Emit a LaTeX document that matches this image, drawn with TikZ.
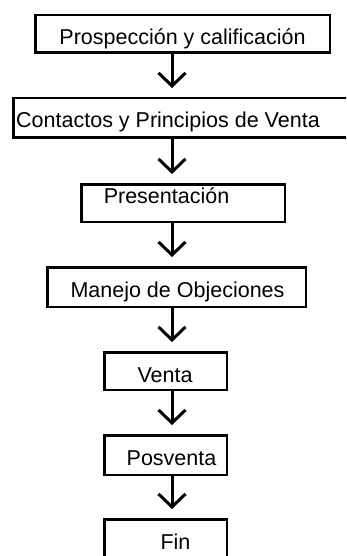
\documentclass[tikz,border=0pt]{standalone}
\usepackage{fontspec}
\setmainfont{Liberation Sans}
\usetikzlibrary{arrows.meta}
\tikzset{
  caja/.style={shape=rectangle,draw=black,line width=2.5pt,inner sep=0pt},
  texto/.style={anchor=base,inner sep=0pt,font=\fontsize{21.5}{24}\selectfont},
  flecha/.style={line width=3pt,-{Straight Barb[length=13pt,width=27pt]},shorten >=9pt}
}
\begin{document}
\begin{tikzpicture}[x=1pt,y=-1pt]
      \useasboundingbox (0,0) rectangle (346,556);
      \clip (0,0) rectangle (346,556);

      \node[caja,minimum width=294.5pt,minimum height=37.5pt] (B1) at (182.5,34) {};
      \node[caja,minimum width=337.5pt,minimum height=39.5pt] (B2) at (182,118) {};
      \node[caja,minimum width=203.5pt,minimum height=37.5pt] (B3) at (183,203) {};
      \node[caja,minimum width=258.5pt,minimum height=39.5pt] (B4) at (176.5,287) {};
      \node[caja,minimum width=122.5pt,minimum height=37.5pt] (B5) at (165.5,371) {};
      \node[caja,minimum width=122.5pt,minimum height=39.5pt] (B6) at (165.5,455) {};
      \node[caja,minimum width=122.5pt,minimum height=39.5pt] (B7) at (165.5,539) {};

      \node[texto] (T1) at (182.5,45) {Prospección y calificación};
      \node[texto] (T2) at (168,128) {Contactos y Principios de Venta};
      \node[texto] (T3) at (166.5,203) {Presentación};
      \node[texto] (T4) at (177.5,297) {Manejo de Objeciones};
      \node[texto] (T5) at (165,382) {Venta};
      \node[texto] (T6) at (171.5,465) {Posventa};
      \node[texto] (T7) at (175.5,549) {Fin};

      \coordinate (X) at (172,0);

      \draw[flecha] (B1.south -| X) -- (B2.north -| X);
      \draw[flecha] (B2.south -| X) -- (B3.north -| X);
      \draw[flecha] (B3.south -| X) -- (B4.north -| X);
      \draw[flecha] (B4.south -| X) -- (B5.north -| X);
      \draw[flecha] (B5.south -| X) -- (B6.north -| X);
      \draw[flecha] (B6.south -| X) -- (B7.north -| X);
\end{tikzpicture}
\end{document}
